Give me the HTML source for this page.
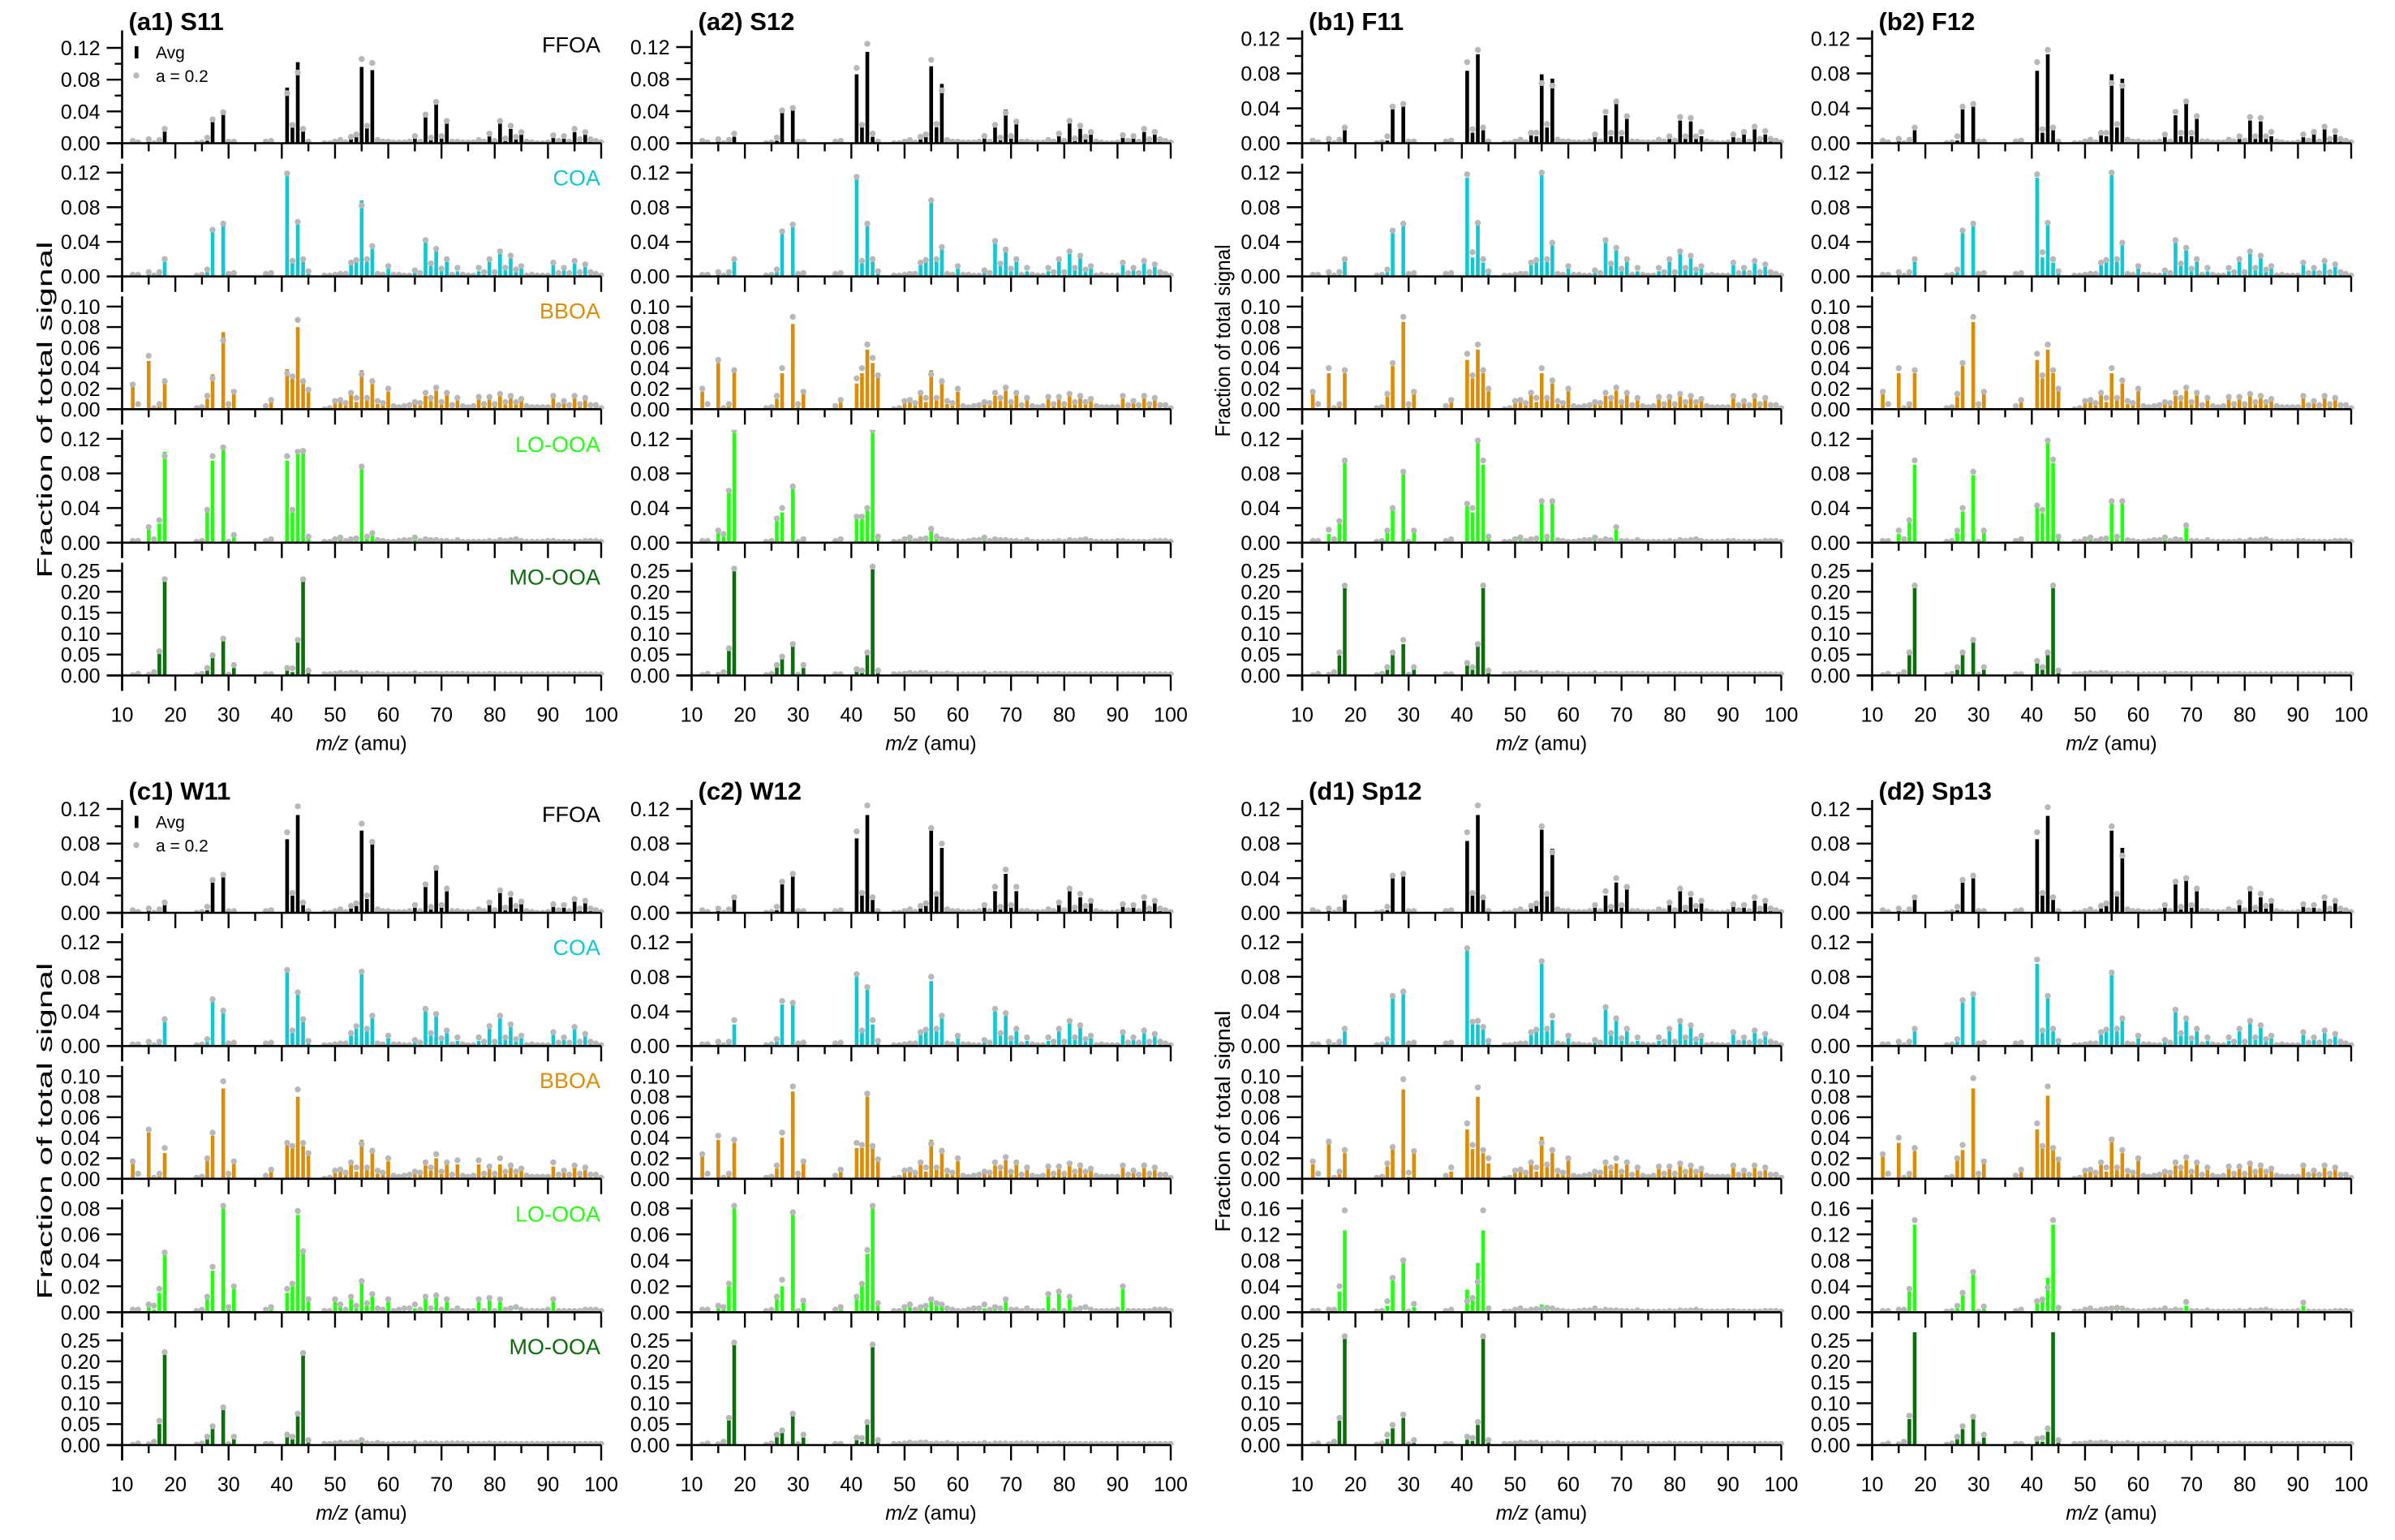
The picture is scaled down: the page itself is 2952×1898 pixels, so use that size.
<!DOCTYPE html>
<html><head><meta charset="utf-8">
<style>
html,body{margin:0;padding:0;background:#fff;}
svg{display:block;font-family:"Liberation Sans",sans-serif;}
</style></head>
<body>
<svg id="fig" xmlns="http://www.w3.org/2000/svg" width="2952" height="1898" viewBox="0 0 2952 1898"></svg>
<script>
// ---------- categories ----------
const MZ_LOW = [12,13,15,16,17,18,24,25,26,27,29,30,31,37,38,41,42,43,44,45];
const MZ_HIGH_START = 48, MZ_HIGH_END = 100;
const FACTORS = ['FFOA','COA','BBOA','LO-OOA','MO-OOA'];
const X_TICKS = [10,20,30,40,50,60,70,80,90,100];

// ---------- base spectra (bars = Avg, dots = a=0.2), ordered as MZ ----------
const FFOA_BAR = [.002,0,.003,0,.002,.015, 0,0,.003,.027,.036,0,0, 0,0, .070,.021,.102,.015,0,
 0,0,.002,.003,.001,.006,.008,.096,.019,.092, .002,0,0,0,0,0,.001,.006,.001,.033,
 .005,.050,.006,.026,.001,.001,0,0,0,.003, .001,.009,.002,.026,.004,.018,.005,.011,.001,0,
 0,0,0,.007,.002,.006,.001,.014,.003,.011, .002,.001,0];
const FFOA_DOT = [.003,.001,.005,0,.004,.018, 0,.001,.007,.030,.039,.002,.002, .002,.003, .063,.023,.089,.018,.002,
 0,0,.002,.004,.001,.008,.011,.106,.022,.101, .004,.002,.002,.001,.001,.001,.002,.009,.002,.036,
 .007,.052,.009,.028,.002,.002,.001,.001,.001,.004, .002,.012,.003,.028,.006,.022,.008,.014,.002,.001,
 0,0,.001,.010,.003,.009,.002,.018,.005,.014, .005,.003,.001];
const COA_BAR = [0,0,.004,0,.004,.017, 0,0,.005,.052,.060,0,0, 0,0, .117,.016,.060,.017,.004,
 0,0,.001,.002,.002,.014,.017,.088,.017,.032, .001,0,.009,.001,0,0,0,.005,.003,.040,
 .012,.030,.006,.017,.001,.006,.001,0,0,.006, .003,.017,.004,.026,.008,.021,.005,.009,0,.001,
 0,0,0,.013,.002,.007,.003,.015,.003,.011, .003,.002,.001];
const COA_DOT = [.002,.002,.005,.001,.005,.020, .001,.002,.008,.054,.061,.003,.004, .003,.004, .119,.018,.063,.020,.006,
 .001,.001,.002,.003,.003,.016,.019,.082,.020,.035, .003,.002,.012,.002,.002,.001,.001,.007,.004,.042,
 .015,.032,.009,.020,.002,.010,.002,.001,.001,.010, .005,.020,.005,.029,.010,.024,.008,.012,.001,.002,
 .001,.001,.001,.016,.004,.010,.004,.018,.005,.014, .005,.003,.001];
const BBOA_BAR = [.023,.001,.047,0,.003,.030, 0,0,.010,.034,.075,.002,.018, .003,.007, .039,.030,.080,.030,.017,
 0,0,.006,.007,.004,.014,.007,.038,.012,.030, .005,.006,.017,.002,.001,.002,.002,.005,.004,.013,
 .008,.018,.005,.014,.003,.010,.002,.002,.002,.011, .004,.011,.004,.013,.005,.011,.005,.009,.002,.002,
 .001,.002,.001,.011,.003,.007,.003,.011,.004,.009, .003,.003,.001];
const BBOA_DOT = [.024,.005,.052,.001,.005,.027, .001,.002,.013,.030,.067,.005,.017, .003,.009, .035,.032,.087,.027,.019,
 0,.001,.008,.009,.006,.016,.011,.034,.011,.027, .008,.006,.020,.003,.002,.003,.004,.007,.006,.016,
 .011,.021,.007,.016,.004,.011,.003,.002,.003,.012, .005,.012,.005,.015,.007,.013,.007,.010,.003,.002,
 .002,.002,.002,.013,.004,.008,.004,.013,.005,.011, .004,.004,.001];
const LOOOA_BAR = [0,0,.015,.002,.022,.105, 0,0,.035,.095,.108,0,.007, 0,.003, .095,.035,.108,.105,.005,
 0,0,.002,.004,.001,.002,.003,.085,.005,.008, .001,0,0,0,0,0,.001,.003,.001,.002,
 .001,.001,.001,.001,0,0,0,0,0,0, .001,.001,0,.001,0,.001,.001,0,0,0,
 0,0,0,.001,0,0,0,.001,0,0, 0,0,0];
const LOOOA_DOT = [.002,.002,.018,.004,.026,.100, .001,.002,.038,.100,.110,.001,.009, .002,.004, .100,.038,.105,.106,.007,
 .001,.001,.004,.006,.002,.004,.005,.088,.007,.011, .003,.002,.001,.001,.002,.003,.003,.006,.002,.004,
 .003,.003,.002,.002,.001,.003,.001,.001,.001,.001, .001,.002,.001,.003,.002,.003,.004,.002,.001,.001,
 .001,.001,.002,.002,.001,.001,.001,.001,.001,.002, .002,.002,.001];
const MOOOA_BAR = [0,.002,0,.006,.052,.228, 0,.003,.012,.045,.083,0,.018, .002,.002, .012,.008,.080,.228,.007,
 .001,.001,.002,.003,.002,.003,.003,.002,.001,.002, .002,.001,.001,.001,.001,.001,.001,.002,.001,.002,
 .002,.002,.001,.002,.001,.002,.001,.001,.001,.001, .001,.002,.001,.001,.001,.001,.001,.001,.001,.001,
 .001,.001,.001,.001,.001,.001,.001,.001,.001,.001, .001,.001,.001];
const MOOOA_DOT = [.001,.004,.002,.008,.058,.230, .001,.004,.018,.048,.088,.002,.025, .003,.003, .018,.017,.085,.230,.012,
 .003,.003,.004,.006,.004,.006,.006,.003,.004,.003, .005,.003,.002,.003,.003,.003,.003,.005,.002,.004,
 .004,.004,.003,.004,.004,.004,.004,.003,.003,.003, .003,.004,.003,.003,.003,.003,.003,.003,.003,.003,
 .003,.003,.003,.003,.003,.003,.003,.003,.003,.003, .003,.003,.003];

// ---------- per-panel peak overrides [m/z, avg, a=0.2] ----------
const A2_FFOA = [[18,.008,.012],[27,.038,.041],[29,.042,.044],[41,.086,.094],[42,.02,.023],[43,.114,.124],[44,.008,.012],[55,.096,.104],[56,.02,.024],[57,.074,.066],[67,.02,.023],[69,.042,.038],[71,.03,.027]];
const A2_COA = [[27,.05,.052],[29,.058,.06],[41,.113,.115],[43,.058,.061],[55,.087,.088],[57,.032,.034],[67,.04,.041],[69,.03,.031]];
const A2_BBOA = [[12,.017,.02],[15,.045,.048],[18,.036,.038],[27,.035,.04],[29,.083,.09],[41,.025,.03],[42,.035,.04],[43,.058,.063],[44,.045,.05],[45,.035,.033]];
const A2_LO = [[15,.012,.014],[16,.01,.01],[17,.06,.06],[18,.13,.13],[26,.025,.028],[27,.035,.04],[29,.065,.065],[31,.003,.004],[41,.03,.03],[42,.03,.03],[43,.04,.04],[44,.13,.13],[55,.015,.016],[57,.002,.004]];
const A2_MO = [[17,.065,.065],[18,.255,.255],[26,.02,.025],[27,.04,.045],[29,.07,.075],[41,.01,.015],[42,.01,.012],[43,.05,.055],[44,.26,.26]];
const B1_FFOA = [[18,.015,.018],[26,.003,.008],[27,.039,.042],[29,.042,.045],[41,.083,.093],[42,.012,.016],[43,.102,.107],[44,.015,.018],[53,.01,.012],[54,.008,.012],[55,.079,.069],[56,.018,.022],[57,.074,.066],[65,.008,.01],[67,.032,.036],[68,.008,.012],[69,.046,.048],[70,.008,.012],[71,.028,.031],[79,.005,.008],[81,.026,.03],[82,.005,.008],[83,.025,.029],[84,.005,.008],[85,.008,.013],[93,.011,.013],[95,.016,.019],[97,.01,.014]];
const B1_COA = [[27,.05,.053],[29,.058,.061],[41,.114,.118],[42,.022,.028],[43,.06,.062],[44,.016,.02],[55,.117,.12],[56,.017,.02],[57,.036,.039],[67,.04,.042],[69,.03,.033]];
const B1_BBOA = [[12,.015,.017],[15,.035,.04],[18,.035,.038],[26,.012,.015],[27,.042,.045],[29,.085,.09],[41,.048,.054],[42,.03,.033],[43,.058,.063],[44,.035,.038],[45,.02,.02],[55,.035,.04],[57,.025,.028],[60,.02,.02]];
const B1_LO = [[15,.01,.015],[17,.022,.025],[18,.092,.095],[26,.012,.014],[27,.038,.04],[29,.08,.082],[31,.012,.014],[41,.042,.045],[42,.035,.04],[43,.115,.118],[44,.09,.095],[55,.045,.048],[57,.045,.048],[69,.015,.018]];
const B1_MO = [[17,.048,.055],[18,.21,.215],[26,.015,.02],[27,.05,.055],[29,.075,.085],[31,.015,.02],[41,.025,.03],[42,.02,.02],[43,.07,.075],[44,.21,.215]];
const B2_LO = [[15,.01,.014],[17,.024,.026],[18,.09,.095],[26,.012,.014],[27,.036,.04],[29,.078,.082],[31,.012,.014],[41,.04,.043],[42,.034,.038],[43,.115,.118],[44,.092,.096],[55,.045,.048],[57,.045,.048],[69,.018,.02]];
const B2_MO = [[17,.05,.055],[18,.21,.215],[26,.015,.02],[27,.05,.055],[29,.08,.085],[31,.015,.02],[41,.03,.035],[42,.02,.02],[43,.05,.055],[44,.21,.215]];
const C1_FFOA = [[18,.009,.012],[27,.036,.038],[29,.042,.044],[41,.085,.093],[42,.02,.023],[43,.113,.123],[44,.009,.012],[55,.095,.103],[56,.016,.02],[57,.08,.082],[67,.03,.033],[69,.05,.052],[71,.025,.028],[81,.023,.026],[83,.018,.022],[85,.011,.013],[95,.013,.016],[97,.012,.014]];
const C1_COA = [[18,.028,.031],[27,.052,.054],[29,.038,.041],[41,.086,.088],[42,.016,.018],[43,.06,.062],[44,.028,.031],[53,.014,.015],[54,.02,.023],[55,.084,.086],[56,.018,.02],[57,.032,.035],[67,.04,.043],[69,.034,.037],[71,.016,.018],[79,.02,.023],[81,.032,.035],[83,.022,.025],[95,.02,.022]];
const C1_BBOA = [[12,.015,.017],[15,.045,.048],[18,.025,.03],[26,.02,.02],[27,.042,.045],[29,.088,.095],[41,.033,.035],[42,.03,.032],[43,.08,.087],[44,.032,.035],[45,.025,.025],[69,.02,.024],[73,.014,.018],[77,.014,.018],[81,.014,.02],[91,.012,.016]];
const C1_LO = [[15,.004,.006],[16,.002,.005],[17,.015,.018],[18,.045,.046],[26,.01,.012],[27,.032,.035],[29,.08,.082],[30,.002,.004],[31,.018,.02],[41,.015,.018],[42,.02,.022],[43,.075,.078],[44,.045,.047],[45,.01,.01],[50,.008,.01],[53,.01,.012],[55,.022,.024],[57,.012,.014],[60,.008,.01],[67,.01,.012],[69,.012,.013],[71,.008,.01],[77,.008,.01],[79,.009,.011],[81,.008,.01],[91,.008,.01]];
const C1_MO = [[17,.05,.058],[18,.22,.222],[26,.015,.02],[27,.04,.045],[29,.085,.09],[31,.02,.02],[41,.02,.025],[42,.02,.02],[43,.07,.075],[44,.215,.22],[55,.01,.012]];
const C2_FFOA = [[27,.033,.036],[29,.042,.045],[41,.086,.094],[43,.113,.124],[55,.096,.098],[57,.075,.08],[67,.025,.03],[69,.045,.05],[71,.025,.03]];
const C2_COA = [[18,.025,.03],[27,.048,.052],[29,.048,.05],[41,.08,.083],[43,.065,.068],[44,.025,.03],[55,.075,.08],[67,.04,.043],[69,.035,.038]];
const C2_BBOA = [[15,.038,.042],[18,.035,.038],[27,.04,.045],[29,.085,.09],[41,.03,.035],[42,.03,.033],[43,.08,.083],[44,.03,.032]];
const C2_LO = [[15,.003,.005],[17,.02,.022],[18,.08,.082],[26,.01,.012],[27,.02,.025],[29,.075,.077],[41,.01,.012],[42,.02,.022],[43,.045,.048],[44,.08,.082],[55,.008,.01],[57,.004,.006],[69,.008,.01],[77,.012,.014],[79,.015,.016],[81,.01,.012],[91,.018,.02]];
const C2_MO = [[17,.06,.065],[18,.24,.245],[26,.02,.025],[27,.03,.035],[29,.07,.075],[43,.05,.055],[44,.235,.24]];
const D1_FFOA = [[27,.04,.043],[29,.042,.045],[41,.083,.093],[43,.113,.124],[55,.096,.1],[57,.074,.07],[67,.02,.025],[69,.035,.04],[71,.03,.03]];
const D1_COA = [[27,.055,.058],[29,.06,.063],[41,.11,.113],[42,.025,.028],[43,.025,.029],[44,.02,.022],[55,.1,.098],[57,.03,.035],[67,.042,.045],[69,.03,.032]];
const D1_BBOA = [[12,.014,.017],[15,.039,.036],[17,.005,.007],[18,.025,.028],[26,.012,.015],[27,.029,.031],[29,.087,.097],[30,.002,.006],[31,.025,.027],[38,.007,.011],[41,.048,.054],[42,.029,.033],[43,.08,.089],[44,.025,.028],[45,.015,.02],[55,.041,.035],[56,.012,.014],[57,.025,.028],[60,.02,.02],[69,.015,.02]];
const D1_LO = [[15,.002,.004],[17,.032,.04],[18,.126,.157],[26,.01,.017],[27,.049,.053],[29,.082,.08],[31,.008,.013],[41,.035,.017],[42,.02,.022],[43,.076,.047],[44,.126,.157],[45,.003,.006],[55,.012,.005],[57,.004,.006]];
const D1_MO = [[17,.058,.065],[18,.255,.26],[26,.015,.025],[27,.04,.048],[29,.065,.073],[31,.005,.012],[41,.013,.02],[42,.01,.017],[43,.048,.055],[44,.255,.26]];
const D2_FFOA = [[27,.035,.038],[29,.04,.043],[41,.085,.093],[43,.112,.122],[55,.095,.1],[57,.075,.066],[69,.038,.04]];
const D2_COA = [[27,.05,.053],[29,.058,.06],[41,.095,.1],[43,.055,.058],[55,.082,.085],[57,.03,.032]];
const D2_BBOA = [[15,.035,.04],[18,.027,.03],[26,.02,.02],[27,.028,.033],[29,.088,.098],[41,.048,.054],[42,.03,.032],[43,.081,.09],[44,.03,.03],[55,.041,.038],[57,.025,.028],[60,.02,.02]];
const D2_LO = [[15,.002,.004],[17,.032,.036],[18,.135,.142],[26,.008,.01],[27,.027,.03],[29,.058,.062],[41,.015,.017],[42,.018,.02],[43,.053,.038],[44,.135,.142],[55,.003,.006],[57,.004,.006],[69,.01,.016],[91,.01,.015]];
const D2_MO = [[17,.062,.07],[18,.29,.29],[26,.015,.02],[27,.038,.045],[29,.062,.068],[41,.012,.015],[43,.032,.04],[44,.29,.29]];

// ---------- y-axis tick specs per row ----------
const TICKS_STD = [0,.02,.04,.06,.08,.10,.12];
const LABELS_STD = ['0.00','','0.04','','0.08','','0.12'];
const TICKS_BB = [0,.02,.04,.06,.08,.10];
const LABELS_BB = ['0.00','0.02','0.04','0.06','0.08','0.10'];
const TICKS_LO_C = [0,.02,.04,.06,.08];
const LABELS_LO_C = ['0.00','0.02','0.04','0.06','0.08'];
const TICKS_LO_D = [0,.02,.04,.06,.08,.10,.12,.14,.16];
const LABELS_LO_D = ['0.00','','0.04','','0.08','','0.12','','0.16'];
const TICKS_MO = [0,.05,.10,.15,.20,.25];
const LABELS_MO = ['0.00','0.05','0.10','0.15','0.20','0.25'];
</script>
<script>
const NS='http://www.w3.org/2000/svg';
const svg=document.getElementById('fig');
const MZ=MZ_LOW.slice();
for(let m=MZ_HIGH_START;m<=MZ_HIGH_END;m++) MZ.push(m);
const BASE=[[FFOA_BAR,FFOA_DOT],[COA_BAR,COA_DOT],[BBOA_BAR,BBOA_DOT],[LOOOA_BAR,LOOOA_DOT],[MOOOA_BAR,MOOOA_DOT]];
const COLORS=['#000000','#10c8d2','#dc8c06','#22ff11','#0a6e0a'];
const AXX=[150.5,852.5,1605,2307.5];
const ROWB=[176.5,340.7,504.3,668.8,832.5];
const HALF_OFF=948.5;
const PLOT_H=139, XW=590.5;

const PANELS=[
 {t:'(a1) S11',c:0,h:0,lab:true,ov:[[],[],[],[],[]],r1:117.5,lo:'std'},
 {t:'(a2) S12',c:1,h:0,lab:false,ov:[A2_FFOA,A2_COA,A2_BBOA,A2_LO,A2_MO],r1:118.5,lo:'std'},
 {t:'(b1) F11',c:2,h:0,lab:false,ov:[B1_FFOA,B1_COA,B1_BBOA,B1_LO,B1_MO],r1:129,lo:'std'},
 {t:'(b2) F12',c:3,h:0,lab:false,ov:[B1_FFOA,B1_COA,B1_BBOA,B2_LO,B2_MO],r1:129,lo:'std'},
 {t:'(c1) W11',c:0,h:1,lab:true,ov:[C1_FFOA,C1_COA,C1_BBOA,C1_LO,C1_MO],r1:128,lo:'c'},
 {t:'(c2) W12',c:1,h:1,lab:false,ov:[C2_FFOA,C2_COA,C2_BBOA,C2_LO,C2_MO],r1:128,lo:'c'},
 {t:'(d1) Sp12',c:2,h:1,lab:false,ov:[D1_FFOA,D1_COA,D1_BBOA,D1_LO,D1_MO],r1:128,lo:'d'},
 {t:'(d2) Sp13',c:3,h:1,lab:false,ov:[D2_FFOA,D2_COA,D2_BBOA,D2_LO,D2_MO],r1:128,lo:'d'}
];
const YTITLES=[{x:55,y:505,len:415},{x:1507,y:420,len:237},{x:55,y:1394,len:415},{x:1507,y:1382,len:273}];

function el(tag,attrs,parent){const e=document.createElementNS(NS,tag);for(const k in attrs)e.setAttribute(k,attrs[k]);(parent||svg).appendChild(e);return e;}
function txt(s,attrs,parent){const e=el('text',attrs,parent);e.textContent=s;return e;}

let clipId=0;
PANELS.forEach(function(p,pi){
  const g=el('g',{});
  
  
  const x0=AXX[p.c];
  const xs=function(m){return x0+(m-10)*XW/90;};
  const title=txt(p.t,{x:x0+8,y:37+p.h*HALF_OFF,'font-size':31,'font-weight':'bold'},g);
  
  
  for(let r=0;r<5;r++){
    const base=ROWB[r]+p.h*HALF_OFF;
    let ticks,labels,topPx;
    if(r<2){ticks=TICKS_STD;labels=LABELS_STD;topPx=(r===0?p.r1:128);}
    else if(r===2){ticks=TICKS_BB;labels=LABELS_BB;topPx=126.5;}
    else if(r===3){
      if(p.lo==='c'){ticks=TICKS_LO_C;labels=LABELS_LO_C;}
      else if(p.lo==='d'){ticks=TICKS_LO_D;labels=LABELS_LO_D;}
      else {ticks=TICKS_STD;labels=LABELS_STD;}
      topPx=128;
    } else {ticks=TICKS_MO;labels=LABELS_MO;topPx=129;}
    const topVal=ticks[ticks.length-1];
    const ys=function(v){return base-v*topPx/topVal;};
    const sg=el('g',{},g);
    
    
    const cid='clip'+(clipId++);
    const cp=el('clipPath',{id:cid},sg);
    el('rect',{x:x0,y:base-PLOT_H,width:XW+6,height:PLOT_H},cp);
    // data
    const bars=BASE[r][0].slice(), dots=BASE[r][1].slice();
    p.ov[r].forEach(function(o){const i=MZ.indexOf(o[0]);if(i>=0){bars[i]=o[1];dots[i]=o[2];}});
    const dg=el('g',{'clip-path':'url(#'+cid+')'},sg);
    MZ.forEach(function(m,i){
      const v=bars[i]; if(v<=0) return;
      const b=el('rect',{x:xs(m)-2.3,y:ys(v),width:4.6,height:base-ys(v),fill:COLORS[r]},dg);
      
      
    });
    MZ.forEach(function(m,i){
      const c=el('circle',{cx:xs(m),cy:ys(dots[i]),r:3.7,fill:'#b8b8b8'},dg);
      
      
    });
    // axes
    el('line',{x1:x0,y1:base-PLOT_H,x2:x0,y2:base+19,stroke:'#000','stroke-width':2.6},sg);
    el('line',{x1:x0-19,y1:base,x2:x0+XW,y2:base,stroke:'#000','stroke-width':2.6},sg);
    ticks.forEach(function(t,i){
      const y=ys(t);
      const major=labels[i]!=='';
      el('line',{x1:x0-(major?19:9),y1:y,x2:x0,y2:y,stroke:'#000','stroke-width':2.4},sg);
      if(major){const tl=txt(labels[i],{x:x0-27,y:y+9,'font-size':25,'text-anchor':'end'},sg);
        
        }
    });
    for(let m=10;m<=100;m+=5){
      const major=(m%10===0);
      el('line',{x1:xs(m),y1:base,x2:xs(m),y2:base+(major?19:10),stroke:'#000','stroke-width':2.4},sg);
    }
    if(p.lab){
      const fl=txt(FACTORS[r],{x:x0+XW-1,y:base-112,'font-size':27,'text-anchor':'end',fill:COLORS[r]},sg);
      
      
    }
  }
  // x tick labels + axis label
  const lb=ROWB[4]+p.h*HALF_OFF;
  X_TICKS.forEach(function(m){
    const xl=txt(String(m),{x:xs(m),y:lb+57,'font-size':25,'text-anchor':'middle'},g);
    
    
  });
  const xt=el('text',{x:x0+295,y:lb+92,'font-size':25,'text-anchor':'middle'},g);
  
  
  const it=el('tspan',{'font-style':'italic'},xt); it.textContent='m/z';
  const t2=el('tspan',{},xt); t2.textContent=' (amu)';
  if(p.lab){
    const lg=el('g',{},g);
    
    
    const oy=p.h*HALF_OFF;
    el('rect',{x:166,y:57+oy,width:4.6,height:15,fill:'#000'},lg);
    txt('Avg',{x:192,y:72+oy,'font-size':21},lg);
    el('circle',{cx:168,cy:93+oy,r:3.7,fill:'#b8b8b8'},lg);
    txt('a = 0.2',{x:192,y:101+oy,'font-size':21},lg);
  }
});
YTITLES.forEach(function(t){
  const e=txt('Fraction of total signal',{x:0,y:0,'font-size':26,'text-anchor':'middle',
    transform:'translate('+t.x+','+t.y+') rotate(-90)',textLength:t.len,lengthAdjust:'spacingAndGlyphs',dy:9});
  
  
});
</script>
</body></html>
